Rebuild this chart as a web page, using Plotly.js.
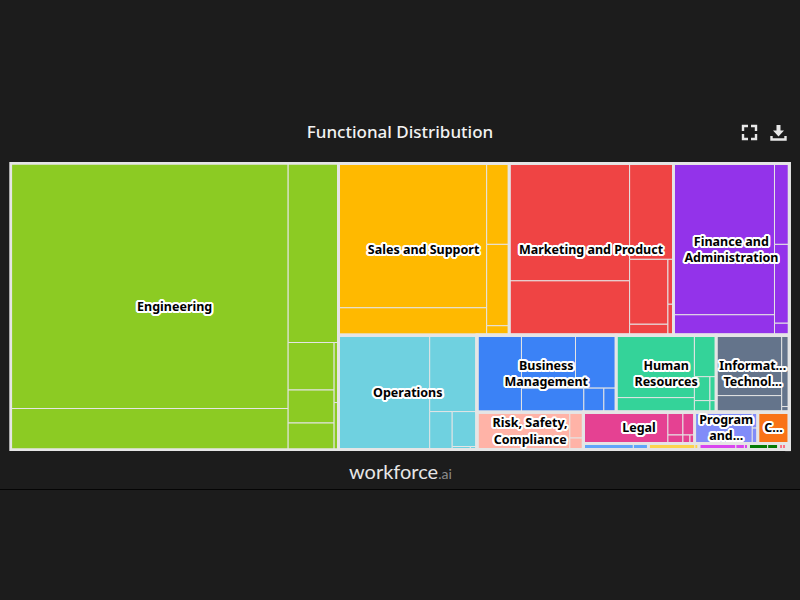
<!DOCTYPE html>
<html>
<head>
<meta charset="utf-8">
<script src="https://cdn.plot.ly/plotly-3.0.1.min.js"></script>
<style>html,body{margin:0;padding:0;background:#1c1c1c;overflow:hidden}#chart{width:800px;height:600px}</style>
</head>
<body>
<div id="chart"></div>
<script>
const chartTitle = 'Functional Distribution';
const groupNames = ['Engineering','Sales','Marketing','Finance','Operations','Business','HR','IT','Risk','Legal','Program','Comm','Blue','Yellow','Magenta','Green','Pink','Spare'];
const groupLabels = ['Engineering','Sales and Support','Marketing and Product','Finance and<br>Administration','Operations','Business<br>Management','Human<br>Resources','Informat...<br>Technol...','Risk, Safety,<br>Compliance','Legal','Program<br>and...','C...','','','','','',''];
const groupColors = ['#8ccb23','#ffb900','#ef4444','#9333ea','#6fd1e0','#3b82f6','#34d399','#64748b','#ffb3a7','#e54192','#818cf8','#f97316','#60a5fa','#fcd34d','#d946ef','#047a04','#fb7185','#e5e5e5'];

const nodeIds = ['All',
 'Engineering','EngIn','EA','E1','E2','EB','E3','EC','ED','E4','E5','E6','EE','E7','E8',
 'Rest','TopRow',
 'Sales','SalesIn','SA','S1','S2','SB','S3','S4','S5',
 'Marketing','MIn','MA','M1','M2','MB','M3','MC','MD','M4','M5','ME','M6','M7',
 'Finance','FIn','FA','F1','F2','FB','F3','F4','F5',
 'BottomRow',
 'Operations','OIn','O1','OB','O2','OC','O3','OD','O4','OF','O5','O6',
 'BR','RowA',
 'Business','BIn','B1','BB','BT','B2','B3','BU','B4','B5','B6',
 'HR','HIn','HA','H1','H2','HB','H3','HC','HD','H4','H6','HE','H5','H7',
 'IT','IIn','IA','I1','I2','IB','I3','I4',
 'RowB',
 'Risk','RIn','R1','RC','R2','R3',
 'RB','RB1',
 'Legal','LIn','L1','LB','LT','L2','L3','LU','L4','L5','L6',
 'Program','PIn','P1','PB','P2','P3',
 'Comm',
 'RB2',
 'Blue','BlueIn','Bl1','Bl2',
 'Yellow','YellowIn','Ye1','Ye2',
 'Magenta','MagentaIn','Ma1','Ma2','Ma3',
 'Green','GreenIn','Gr1','Gr2',
 'Pink','PinkIn','Pi1','Pi2',
 'Spare'];
const nodeParents = ['',
 'All','Engineering','EngIn','EA','EA','EngIn','EB','EB','EC','ED','ED','ED','EC','EE','EE',
 'All','Rest',
 'TopRow','Sales','SalesIn','SA','SA','SalesIn','SB','SB','SB',
 'TopRow','Marketing','MIn','MA','MA','MIn','MB','MB','MC','MD','MD','MC','ME','ME',
 'TopRow','Finance','FIn','FA','FA','FIn','FB','FB','FB',
 'Rest',
 'BottomRow','Operations','OIn','OIn','OB','OB','OC','OC','OD','OD','OF','OF',
 'BottomRow','BR',
 'RowA','Business','BIn','BIn','BB','BT','BT','BB','BU','BU','BU',
 'RowA','HR','HIn','HA','HA','HIn','HB','HB','HC','HD','HD','HC','HE','HE',
 'RowA','IT','IIn','IA','IA','IIn','IB','IB',
 'BR',
 'RowB','Risk','RIn','RIn','RC','RC',
 'RowB','RB',
 'RB1','Legal','LIn','LIn','LB','LT','LT','LB','LU','LU','LU',
 'RB1','Program','PIn','PIn','PB','PB',
 'RB1',
 'RB',
 'RB2','Blue','BlueIn','BlueIn',
 'RB2','Yellow','YellowIn','YellowIn',
 'RB2','Magenta','MagentaIn','MagentaIn','MagentaIn',
 'RB2','Green','GreenIn','GreenIn',
 'RB2','Pink','PinkIn','PinkIn',
 'RB2'];
const nodeValues = [0,
 0,0,0,68117,11445,0,9050,0,0,2185,1518,1228,0,270,212,
 0,0,
 0,0,0,21416,4070,0,1827,1834,214,
 0,0,0,14171,6562,0,4214,0,0,2490,421,0,248,171,
 0,0,0,15322,2071,0,1202,1169,178,
 0,
 0,0,10438,0,3611,0,860,0,865,0,58,21,
 0,0,
 0,0,3427,0,0,2862,2152,0,1495,480,295,
 0,0,0,4888,1134,0,901,0,0,372,178,0,149,71,
 0,0,0,3963,1081,0,543,42,
 0,
 0,0,3499,0,351,158,
 0,0,
 0,0,2662,0,0,345,269,0,128,60,40,
 0,0,1814,0,88,85,
 992,
 0,
 0,0,310,93,
 0,0,288,25,
 0,0,229,53,25,
 0,0,119,68,
 0,0,24,25,
 17];

const parentOf = {};
nodeIds.forEach((id, i) => { parentOf[id] = nodeParents[i]; });
function groupOf(id) {
  let cur = id;
  while (cur) {
    if (groupNames.includes(cur)) return cur;
    cur = parentOf[cur];
  }
  return null;
}
const fillColors = nodeIds.map(id => {
  const g = groupOf(id);
  return g ? groupColors[groupNames.indexOf(g)] : '#e5e5e5';
});
const hasChild = new Set(nodeParents);
const lineWidths = nodeIds.map(id => hasChild.has(id) ? 0 : 1);

// second layer: only the groups and what lies above them, for the frame and the labels
const keep = nodeIds.map(id => {
  if (id === 'All') return true;
  if (groupNames.includes(id)) return true;
  return groupNames.some(g => { let c = parentOf[g]; while (c) { if (c === id) return true; c = parentOf[c]; } return false; });
});
const subtotal = id => {
  let s = nodeValues[nodeIds.indexOf(id)];
  nodeIds.forEach((n, i) => { if (nodeParents[i] === id) s += subtotal(n); });
  return s;
};
const topIds = nodeIds.filter((_, i) => keep[i]);
const topParents = nodeParents.filter((_, i) => keep[i]);
const topValues = topIds.map(id => groupNames.includes(id) ? subtotal(id) : 0);
const topText = topIds.map(id => groupNames.includes(id) ? groupLabels[groupNames.indexOf(id)] : '');

const W = 800, H = 600;
const box = {l: 10.7, r: 789.3, t: 163.3, b: 449.7};
const domain = {x: [box.l / W, box.r / W], y: [1 - box.b / H, 1 - box.t / H]};
const outline = ['1px 0 0','-1px 0 0','0 1px 0','0 -1px 0','1px 1px 0','-1px -1px 0','1px -1px 0','-1px 1px 0','2px 0 0','-2px 0 0','0 2px 0','0 -2px 0','2px 1px 0','-2px -1px 0','2px -1px 0','-2px 1px 0','1px 2px 0','-1px -2px 0','1px -2px 0','-1px 2px 0'].map(s => s + ' #fff').join(', ');

const base = {
  type: 'treemap', branchvalues: 'remainder', sort: false, domain,
  tiling: {packing: 'slice-dice', pad: 0},
  pathbar: {visible: false}, hoverinfo: 'none', root: {color: 'rgba(0,0,0,0)'}
};
const cells = Object.assign({}, base, {
  labels: nodeIds, parents: nodeParents, values: nodeValues, textinfo: 'none',
  marker: {colors: fillColors, line: {color: '#e5e5e5', width: lineWidths}, pad: {t: 0, l: 0, r: 0, b: 0}, depthfade: false},
  leaf: {opacity: 1}
});
const frame = Object.assign({}, base, {
  labels: topIds, parents: topParents, values: topValues, text: topText, textinfo: 'text',
  textposition: 'middle center',
  textfont: {family: 'Noto Sans, Open Sans, sans-serif', size: 12.5, color: '#000', weight: 700, shadow: outline},
  marker: {colors: topIds.map(() => 'rgba(0,0,0,0)'), line: {color: '#e5e5e5', width: 2.8}, pad: {t: 0, l: 0, r: 0, b: 0}, depthfade: false},
  leaf: {opacity: 1}
});

const px = (x, y) => (x / W).toFixed(5) + ',' + (1 - y / H).toFixed(5);
const poly = pts => 'M' + pts.map(p => px(p[0], p[1])).join('L');
const iconLine = {color: '#e8e8e8', width: 2.4};
const shapes = [
  {type: 'line', xref: 'paper', yref: 'paper', x0: 0, x1: 1, y0: 1 - 489.5 / H, y1: 1 - 489.5 / H, line: {color: '#050505', width: 1}},
  {type: 'path', xref: 'paper', yref: 'paper', line: iconLine, path: poly([[743,131],[743,126],[748,126]])},
  {type: 'path', xref: 'paper', yref: 'paper', line: iconLine, path: poly([[751,126],[756,126],[756,131]])},
  {type: 'path', xref: 'paper', yref: 'paper', line: iconLine, path: poly([[756,134],[756,139],[751,139]])},
  {type: 'path', xref: 'paper', yref: 'paper', line: iconLine, path: poly([[748,139],[743,139],[743,134]])},
  {type: 'path', xref: 'paper', yref: 'paper', fillcolor: '#e8e8e8', line: {width: 0}, path: poly([[776.5,125],[780.5,125],[780.5,130.5],[784,130.5],[778.5,136.5],[773,130.5],[776.5,130.5]]) + 'Z'},
  {type: 'path', xref: 'paper', yref: 'paper', line: iconLine, path: poly([[771.5,136],[771.5,139.5],[785.5,139.5],[785.5,136]])}
];

Plotly.newPlot('chart', [cells, frame], {
  width: W, height: H,
  margin: {l: 0, r: 0, t: 0, b: 0},
  paper_bgcolor: '#1c1c1c',
  font: {family: 'Noto Sans, Open Sans, sans-serif'},
  title: {text: chartTitle, x: 0.5, xanchor: 'center', y: 1 - 132 / H, yanchor: 'middle', font: {family: 'Noto Sans, Open Sans, sans-serif', size: 17, color: '#f2f2f2', weight: 500}},
  uniformtext: {mode: 'show', minsize: 12.5},
  shapes,
  annotations: [{
    xref: 'paper', yref: 'paper', x: 0.5, y: 1 - 471 / H, xanchor: 'center', yanchor: 'middle', showarrow: false,
    text: 'workforce<span style="color:#8c8c8c;font-size:14px">.ai</span>',
    font: {family: 'Lato, sans-serif', size: 20, color: '#e6e6e6'}
  }]
}, {displayModeBar: false, staticPlot: false});
</script>
</body>
</html>
